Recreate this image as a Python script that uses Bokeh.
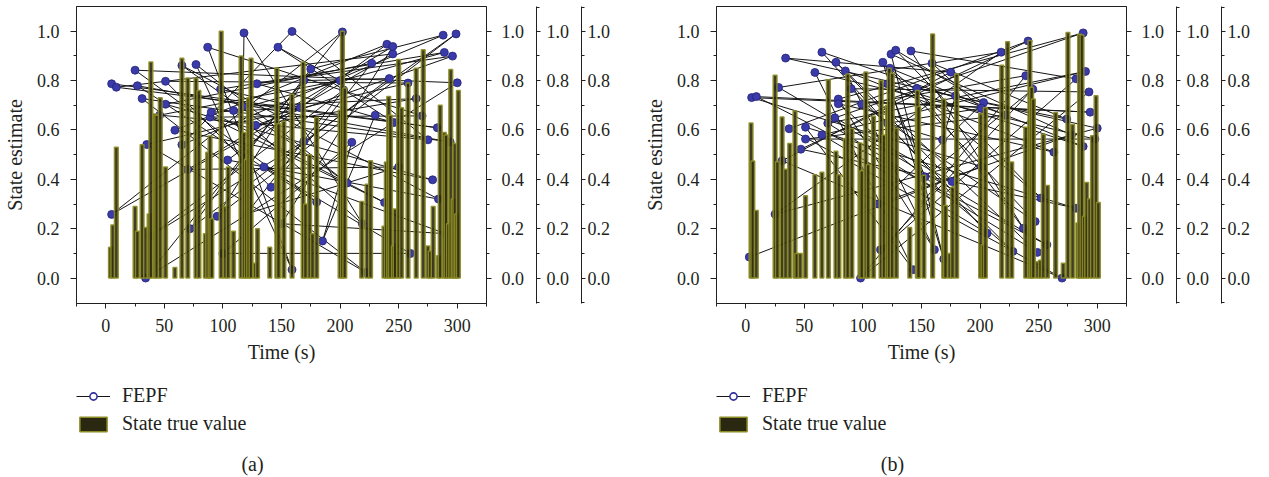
from bokeh.plotting import figure
from bokeh.models import (LinearAxis, Range1d, FixedTicker, NumeralTickFormatter,
                          Legend, LegendItem, Label)
from bokeh.layouts import row, column
from bokeh.embed import file_html
from bokeh.resources import INLINE

# ---------------- data ----------------
X_TICKS = [0, 50, 100, 150, 200, 250, 300]
X_MINOR = [-25, 25, 75, 125, 175, 225, 275, 325]
Y_TICKS = [0.0, 0.2, 0.4, 0.6, 0.8, 1.0]
Y_MINOR = [0.1, 0.3, 0.5, 0.7, 0.9]
X_RANGE = (-25, 325)
Y_RANGE = (-0.103, 1.1)

# panel (a): state true value (bars)
bar_a_t = [4, 6, 9, 25, 27, 31, 34, 37, 38.5, 42,
           43.5, 46.5, 51, 59, 65, 70, 77, 79.5, 85, 87,
           89, 90.5, 98.5, 102, 104.5, 109, 115.5, 118, 120, 122,
           124, 127.5, 129.5, 140, 146, 147.5, 152, 159, 168.5, 170.5,
           174, 176.5, 180, 200, 202, 204, 218.5, 223, 226, 237.5,
           239.5, 241.5, 243, 245.5, 247, 250, 252.5, 258, 265, 271,
           275, 277, 279.5, 284, 285.5, 289, 290.5, 292.5, 294.5, 296.5,
           298, 299.5, 301]
bar_a_v = [0.125, 0.215, 0.53, 0.29, 0.19, 0.54, 0.205, 0.26, 0.875, 0.665,
           0.66, 0.73, 0.45, 0.043, 0.89, 0.81, 0.81, 0.76, 0.18, 0.51,
           0.575, 0.24, 1.0, 0.29, 0.45, 0.19, 0.9, 0.59, 0.48, 0.73,
           0.89, 0.06, 0.2, 0.125, 0.85, 0.625, 0.635, 0.745, 0.875, 0.30,
           0.5, 0.18, 0.65, 0.68, 1.0, 0.77, 0.31, 0.38, 0.475, 0.21,
           0.47, 0.735, 0.66, 0.13, 0.28, 0.885, 0.69, 0.79, 0.85, 0.925,
           0.13, 0.11, 0.29, 0.09, 0.70, 0.59, 0.58, 0.22, 0.845, 0.32,
           0.545, 0.26, 0.76]

# panel (a): FEPF estimate, in drawing order
est_a_t = [5, 283, 9, 245, 5, 202, 34, 300, 25, 180,
           27, 294, 31, 222, 35, 258, 51, 141, 227, 51,
           279, 59, 240, 104, 284, 65, 206, 77, 159, 87,
           270, 89, 238, 90, 166, 98, 289, 109, 219, 118,
           117, 265, 128, 296, 129, 246, 147, 200, 46, 275,
           159, 65, 288, 175, 72, 242, 169, 95, 299, 169,
           38, 203, 120, 250, 70, 245, 150, 290, 135, 260,
           100, 210, 185, 230]
est_a_v = [0.787, 0.609, 0.773, 0.908, 0.258, 0.997, 0.0, 0.791, 0.842, 0.308,
           0.779, 0.551, 0.727, 0.023, 0.541, 0.79, 0.797, 0.368, 0.87, 0.704,
           0.398, 0.599, 0.947, 0.478, 0.32, 0.861, 0.385, 0.865, 0.034, 0.935,
           0.657, 0.652, 0.306, 0.672, 0.69, 0.765, 0.914, 0.679, 0.22, 0.993,
           0.695, 0.727, 0.619, 0.899, 0.787, 0.63, 0.935, 0.80, 0.66, 0.56,
           0.999, 0.54, 0.984, 0.847, 0.2, 0.808, 0.80, 0.25, 0.989, 0.553,
           0.17, 0.762, 0.26, 0.45, 0.44, 0.938, 0.22, 0.18, 0.45, 0.1,
           0.1, 0.55, 0.15, 0.66]

# panel (b): state true value (bars)
bar_b_t = [4.5, 6, 9, 25, 27, 31, 34, 37.5, 42, 43.5,
           46.5, 51, 59, 65, 70.5, 77, 79.5, 85, 87, 90.5,
           97.5, 99, 102.5, 104.5, 109, 115.5, 118, 121, 122.5, 125,
           128.5, 140, 146.5, 147.5, 152, 159.5, 169, 170.5, 174, 176.5,
           180, 200.5, 202.5, 204.5, 218.5, 223.5, 227, 239, 242.5, 244,
           245.5, 249, 251.5, 254, 257.5, 264.5, 271, 275, 279, 283.5,
           285, 287, 289, 291, 293.5, 296, 299, 301]
bar_b_v = [0.628, 0.474, 0.274, 0.822, 0.471, 0.652, 0.441, 0.545, 0.677, 0.10,
           0.10, 0.333, 0.418, 0.429, 0.803, 0.514, 0.418, 0.565, 0.827, 0.606,
           0.547, 0.435, 0.835, 0.46, 0.655, 0.80, 0.58, 0.70, 0.85, 0.83,
           0.607, 0.205, 0.76, 0.695, 0.416, 0.989, 0.725, 0.294, 0.10, 0.368,
           0.827, 0.665, 0.135, 0.69, 0.862, 0.957, 0.47, 0.611, 0.962, 0.773,
           0.725, 0.066, 0.072, 0.583, 0.375, 0.671, 0.06, 0.995, 0.622, 0.223,
           0.988, 0.985, 0.25, 0.387, 0.321, 0.576, 0.738, 0.306]

# panel (b): FEPF estimate, in drawing order
est_b_t = [3, 201, 5, 294, 9, 257, 28, 218, 25, 300,
           34, 175, 31, 270, 37, 241, 47, 282, 51, 143,
           59, 298, 51, 222, 65, 206, 65, 290, 70, 249,
           77, 176, 76, 288, 79, 161, 85, 263, 79, 228,
           90, 293, 98, 239, 99, 247, 117, 169, 124, 278,
           113, 203, 128, 252, 123, 288, 121, 153, 245, 115,
           282, 141, 237, 146, 274, 159, 201, 121, 168, 179]
est_b_v = [0.085, 0.452, 0.731, 0.672, 0.735, 0.135, 0.772, 0.915, 0.259, 0.607,
           0.891, 0.834, 0.475, 0.0, 0.605, 0.96, 0.522, 0.283, 0.611, 0.034,
           0.833, 0.563, 0.563, 0.661, 0.915, 0.182, 0.58, 0.837, 0.627, 0.104,
           0.874, 0.391, 0.649, 0.993, 0.725, 0.115, 0.839, 0.51, 0.706, 0.108,
           0.767, 0.754, 0.0, 0.82, 0.704, 0.229, 0.874, 0.077, 0.907, 0.58,
           0.30, 0.711, 0.923, 0.324, 0.85, 0.533, 0.787, 0.41, 0.765, 0.115,
           0.807, 0.92, 0.202, 0.768, 0.644, 0.87, 0.688, 0.627, 0.56, 0.738]

SERIES_EST = "FEPF"
SERIES_TRUE = "State true value"
X_LABEL = "Time (s)"
Y_LABEL = "State estimate"

# ---------------- style ----------------
FONT = "Liberation Serif"
INK = "#231f20"
LINE_C = "#151515"
MARK_FILL = "#3a3aa8"
MARK_LINE = "#23237a"
BAR_FILL = "#2b2812"
BAR_LINE = "#8c8c24"
BAR_W = 3.2
PLOT_H = 370
FOOT_H = 107
FRAME_TOP = 6
FRAME_BOTTOM = 303
FRAME_LEFT = 76
FRAME_RIGHT = 486
LEG_MARGIN = 14


def style_axis(ax, tick_out, minor_out, standoff):
    ax.axis_line_color = INK
    ax.major_tick_line_color = INK
    ax.minor_tick_line_color = INK
    ax.major_tick_in = 0
    ax.major_tick_out = tick_out
    ax.minor_tick_in = 0
    ax.minor_tick_out = minor_out
    ax.major_label_standoff = standoff
    ax.major_label_text_font = FONT
    ax.major_label_text_font_size = "18px"
    ax.major_label_text_color = INK
    ax.axis_label_text_font = FONT
    ax.axis_label_text_font_size = "20px"
    ax.axis_label_text_font_style = "normal"
    ax.axis_label_text_color = INK


def make_panel(width, bt, bv, et, ev):
    p = figure(width=width, height=PLOT_H, output_backend="svg", toolbar_location=None,
               x_range=Range1d(*X_RANGE), y_range=Range1d(*Y_RANGE),
               min_border_left=FRAME_LEFT, min_border_right=width - FRAME_RIGHT,
               min_border_top=FRAME_TOP, min_border_bottom=PLOT_H - FRAME_BOTTOM)
    p.xgrid.visible = False
    p.ygrid.visible = False
    p.outline_line_color = INK
    p.outline_line_width = 1

    p.line(et, ev, line_color=LINE_C, line_width=1)
    p.scatter(et, ev, size=8, fill_color=MARK_FILL, line_color=MARK_LINE, line_width=0.8)
    p.vbar(x=bt, top=bv, bottom=0, width=BAR_W, fill_color=BAR_FILL,
           line_color=BAR_LINE, line_width=1.5, fill_alpha=0.9, line_alpha=0.92)

    xa = p.xaxis[0]
    xa.ticker = FixedTicker(ticks=X_TICKS, minor_ticks=X_MINOR)
    xa.axis_label = X_LABEL
    style_axis(xa, 5, 3, 10)
    xa.axis_label_standoff = 6

    ya = p.yaxis[0]
    ya.ticker = FixedTicker(ticks=Y_TICKS, minor_ticks=Y_MINOR)
    ya.formatter = NumeralTickFormatter(format="0.0")
    ya.axis_label = Y_LABEL
    style_axis(ya, 6, 3, 11)
    ya.axis_label_standoff = 8

    caps = [Y_RANGE[0] + 0.004, Y_RANGE[1] - 0.004]
    for standoff, pad, cap in [(10, 5, False), (6, 5, True), (2, None, True)]:
        minor = Y_MINOR + (caps if cap else [])
        ax = LinearAxis(ticker=FixedTicker(ticks=Y_TICKS, minor_ticks=minor),
                        formatter=NumeralTickFormatter(format="0.0"))
        style_axis(ax, 5 if not cap else 4, 3, standoff)
        if pad is not None:
            ax.axis_label = " "
            ax.axis_label_text_font_size = "1px"
            ax.axis_label_standoff = pad
        p.add_layout(ax, "right")
    return p


def make_footer(width, caption, bt, bv, et, ev):
    # legend + caption strip beneath the plot; ranges in pixels
    left = FRAME_LEFT - LEG_MARGIN
    f = figure(width=width, height=FOOT_H, output_backend="svg", toolbar_location=None,
               x_axis_type=None, y_axis_type=None,
               x_range=Range1d(0, width - left), y_range=Range1d(0, FOOT_H),
               min_border_left=left, min_border_right=0, min_border_top=0, min_border_bottom=0)
    f.grid.visible = False
    f.outline_line_color = None
    # legend-only renderers (hidden): same series, styled as the legend keys
    dl = f.line(et, ev, line_color=LINE_C, line_width=1, visible=False)
    ds = f.scatter(et, ev, size=6, fill_color="white", line_color="#2f2fa0",
                   line_width=1.6, visible=False)
    db = f.vbar(x=bt, top=bv, width=BAR_W, fill_color=BAR_FILL,
                line_color=BAR_LINE, line_width=1.5, visible=False)
    legend = Legend(items=[LegendItem(label=SERIES_EST, renderers=[dl, ds]),
                           LegendItem(label=SERIES_TRUE, renderers=[db])],
                    location="top_left", orientation="vertical", click_policy="none",
                    glyph_width=34, glyph_height=18, label_height=18,
                    label_standoff=12, spacing=5,
                    padding=0, margin=LEG_MARGIN, border_line_color=None,
                    background_fill_alpha=0,
                    label_text_font=FONT, label_text_font_size="20px", label_text_color=INK)
    f.add_layout(legend)
    f.add_layout(Label(x=192 - LEG_MARGIN + 12, y=14, text=caption, text_font=FONT,
                       text_font_size="20px", text_align="center", text_baseline="middle",
                       text_color=INK))
    return f


pa = make_panel(640, bar_a_t, bar_a_v, est_a_t, est_a_v)
pb = make_panel(629, bar_b_t, bar_b_v, est_b_t, est_b_v)
fa = make_footer(640, "(a)", bar_a_t, bar_a_v, est_a_t, est_a_v)
fb = make_footer(629, "(b)", bar_b_t, bar_b_v, est_b_t, est_b_v)

layout = column(row(pa, pb), row(fa, fb))
open("out.html", "w").write(file_html(layout, INLINE))
